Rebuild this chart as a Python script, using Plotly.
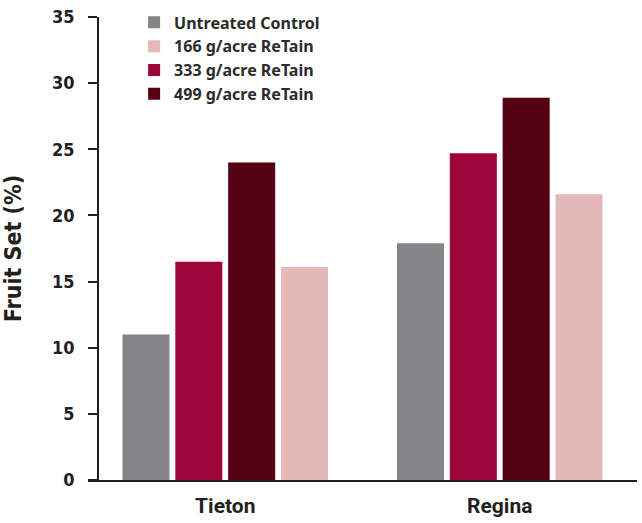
import plotly.graph_objects as go

categories = ["Tieton", "Regina"]
untreated = [11.0, 17.9]
retain_166 = [16.1, 21.6]
retain_333 = [16.5, 24.7]
retain_499 = [24.0, 28.9]

y_ticks = [0, 5, 10, 15, 20, 25, 30, 35]

series = [
    ("Untreated Control", untreated, "#848489", 1),
    ("333 g/acre ReTain", retain_333, "#9d053a", 3),
    ("499 g/acre ReTain", retain_499, "#560013", 4),
    ("166 g/acre ReTain", retain_166, "#e2b9b8", 2),
]

fig = go.Figure()
for name, vals, color, rank in series:
    fig.add_trace(go.Bar(x=categories, y=vals, name=name, marker_color=color,
                         marker_line_width=0, legendrank=rank))

axis_color = "#231f20"
ypos = 0.018
tick_font = dict(family="DejaVu Sans Condensed, DejaVu Sans", size=18, color=axis_color, weight="bold")

fig.update_layout(
    width=642, height=523,
    margin=dict(l=88, r=5, t=17, b=43, autoexpand=False),
    plot_bgcolor="white", paper_bgcolor="white",
    barmode="group", bargap=0.23, bargroupgap=0.11,
    showlegend=True,
    legend=dict(x=0.084, y=1.025, xanchor="left", yanchor="top",
                font=dict(family="Noto Sans, Liberation Sans", size=16, color="#2b2b2b", weight="bold"),
                traceorder="normal", tracegroupgap=0, itemwidth=30, bgcolor="rgba(0,0,0,0)"),
    xaxis=dict(type="category", range=[-0.5, 1.5], showline=True, linecolor=axis_color, linewidth=1.5,
               ticks="", showgrid=False, zeroline=False, automargin=False,
               tickfont=dict(family="Roboto", size=21, color=axis_color, weight="bold"),
               ticklabelstandoff=6),
    xaxis2=dict(overlaying="x", anchor="y", type="linear", range=[-0.5, 1.5],
                tickvals=[-0.5 + 2 * ypos, 0.5], ticks="outside", ticklen=9, tickwidth=1.5,
                tickcolor=axis_color, showticklabels=False, showgrid=False, zeroline=False,
                showline=False, automargin=False),
    yaxis=dict(range=[0, 35], tickvals=y_ticks, anchor="free", position=ypos,
               showline=True, linecolor=axis_color, linewidth=1.5, automargin=False,
               ticks="outside", ticklen=9, tickwidth=1.5, tickcolor=axis_color,
               showgrid=False, zeroline=False, tickfont=tick_font, ticklabelstandoff=10,
               ticklabeloverflow="allow",
               title=dict(text="Fruit Set (%)", standoff=32,
                          font=dict(family="DejaVu Sans Condensed, DejaVu Sans", size=23, color=axis_color, weight="bold"))),
    yaxis2=dict(overlaying="y", anchor="free", position=ypos, range=[0, 35], tickvals=y_ticks,
                ticks="inside", ticklen=12, tickwidth=1.5, tickcolor="#555555", automargin=False,
                showticklabels=False, showgrid=False, zeroline=False, showline=False),
)

# remove the browser's default 8px body margin so the figure fills the window exactly
fig.write_html("out.html", config={"displayModeBar": False},
               post_script="document.body.style.margin='0';")
